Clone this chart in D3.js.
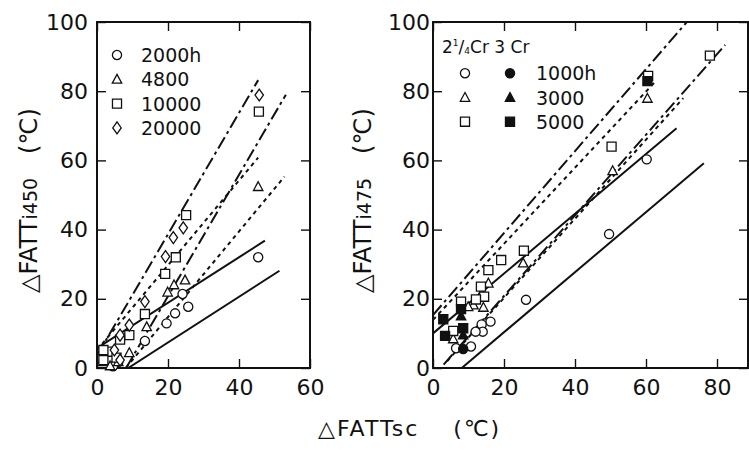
<!DOCTYPE html>
<html>
<head>
<meta charset="utf-8">
<script src="https://cdn.jsdelivr.net/npm/d3@7"></script>
<style>
body { margin: 0; background: #fff; }
svg { display: block; }
text { font-family: "DejaVu Sans", sans-serif; fill: #111; }
</style>
</head>
<body>
<svg id="chart" width="749" height="455"></svg>
<script>
// 刻度
const xTicksLeft = [0, 20, 40, 60];
const xTicksRight = [0, 20, 40, 60, 80];
const yTicks = [0, 20, 40, 60, 80, 100];

// 左图: ΔFATTi450, 时效时间
const agingLeft = ['2000h', '4800', '10000', '20000'];
const left2000 = [[45.4, 32.0], [25.7, 17.7], [24.1, 21.4], [22.0, 15.8], [19.6, 12.9], [13.5, 7.8], [6.0, 1.8], [4.5, 0.5]];
const left4800 = [[45.4, 52.4], [24.8, 25.4], [21.7, 24.0], [19.9, 21.9], [14.0, 11.9], [9.1, 4.4], [1.3, 1.8], [3.7, 0.6], [6.0, 1.8]];
const left10000 = [[45.6, 74.1], [25.1, 44.2], [22.2, 32.0], [19.2, 27.2], [13.5, 15.6], [9.1, 9.5], [6.5, 8.2], [3.2, 4.7], [1.8, 5.2], [1.8, 2.3], [5.5, 3.0]];
const left20000 = [[45.7, 78.9], [24.3, 40.5], [21.5, 37.7], [19.3, 32.2], [13.5, 19.2], [9.1, 12.4], [6.5, 9.5], [4.9, 5.2], [6.5, 2.3]];

// 左图回归线 (两端点)
const leftSolid = [[[8.8, 0], [51.4, 28.1]], [[0, 5.7], [47.3, 36.8]]];
const leftDotted = [[[8.1, 0], [52.8, 55.3]], [[0, 5.2], [45.4, 60.8]]];
const leftDashDot = [[[0, 3.6], [45.4, 83.2]], [[8.2, 0], [53.2, 79.0]]];

// 右图: ΔFATTi475, 2¼Cr (空心) / 3Cr (实心)
const agingRight = ['1000h', '3000', '5000'];
const r1000open = [[60.2, 60.3], [49.6, 38.7], [26.2, 19.7], [16.2, 13.4], [13.7, 12.6], [14.0, 10.5], [12.0, 10.5], [10.7, 6.2], [6.5, 5.7]];
const r1000solid = [[8.5, 5.5]];
const r3000open = [[60.4, 77.9], [50.6, 57.0], [25.4, 30.3], [15.6, 24.5], [14.2, 17.5], [13.7, 21.6], [11.4, 18.2], [9.9, 17.7], [5.7, 8.4]];
const r3000solid = [[7.9, 15.0], [8.5, 9.5]];
const r5000open = [[78.0, 90.3], [60.6, 84.4], [50.3, 64.0], [25.6, 33.9], [19.2, 31.2], [15.6, 28.3], [13.5, 23.5], [14.4, 20.6], [12.1, 19.8], [7.9, 19.2], [5.7, 10.7]];
const r5000solid = [[60.4, 82.9], [2.9, 14.1], [7.9, 17.0], [3.4, 9.3], [8.5, 11.5]];

const rightSolid = [[[8.1, 0], [76.3, 59.2]], [[0, 10.0], [68.6, 69.3]]];
const rightDotted = [[[4.0, 2.0], [70.5, 78.0]], [[0, 13.9], [63.0, 83.2]]];
const rightDashDot = [[[3.0, 1.0], [82.3, 93.4]], [[0, 15.3], [71.5, 100]]];

// 自定义符号
const symCircle = { draw(c, s) { const r = Math.sqrt(s / Math.PI); c.moveTo(r, 0); c.arc(0, 0, r, 0, 2 * Math.PI); } };
const symSquare = { draw(c, s) { const h = Math.sqrt(s) / 2; c.rect(-h, -h, 2 * h, 2 * h); } };
const symTriangle = { draw(c, s) { const a = Math.sqrt(s); c.moveTo(0, -a * 0.55); c.lineTo(a * 0.52, a * 0.42); c.lineTo(-a * 0.52, a * 0.42); c.closePath(); } };
const symDiamond = { draw(c, s) { const a = Math.sqrt(s); c.moveTo(0, -a * 0.62); c.lineTo(a * 0.44, 0); c.lineTo(0, a * 0.62); c.lineTo(-a * 0.44, 0); c.closePath(); } };

const symbolSize = { circle: 66, square: 82, triangle: 82, diamond: 92 };

const svg = d3.select('#chart');
const yTop = 22, yBottom = 368;

function marker(g, type, filled) {
  const types = { circle: symCircle, square: symSquare, triangle: symTriangle, diamond: symDiamond };
  return g.append('path')
    .attr('d', d3.symbol(types[type], symbolSize[type])())
    .attr('fill', filled ? '#111' : '#fff')
    .attr('stroke', '#111')
    .attr('stroke-width', 1.3);
}

function drawPanel(opt) {
  const x = d3.scaleLinear().domain([0, opt.xMax]).range([opt.x0, opt.x1]);
  const y = d3.scaleLinear().domain([0, 100]).range([yBottom, yTop]);
  const g = svg.append('g');

  const clipId = 'clip' + opt.x0;
  svg.append('defs').append('clipPath').attr('id', clipId)
    .append('rect').attr('x', opt.x0).attr('y', yTop)
    .attr('width', opt.x1 - opt.x0).attr('height', yBottom - yTop);

  // 坐标轴 (刻度朝内)
  const axes = [
    [d3.axisBottom(x).tickValues(opt.xTicks).tickSize(-9).tickPadding(11), `translate(0,${yBottom})`],
    [d3.axisTop(x).tickValues(opt.xTicks).tickSize(-9).tickFormat(''), `translate(0,${yTop})`],
    [d3.axisLeft(y).tickValues(yTicks).tickSize(-9).tickPadding(opt.yPad), `translate(${opt.x0},0)`],
    [d3.axisRight(y).tickValues(yTicks).tickSize(-9).tickFormat(''), `translate(${opt.x1},0)`]
  ];
  axes.forEach(([ax, tr]) => {
    const a = g.append('g').attr('transform', tr).call(ax);
    a.select('.domain').remove();
    a.selectAll('line').attr('stroke', '#111').attr('stroke-width', 1.4);
    a.selectAll('text').attr('font-size', 22).attr('font-family', '"DejaVu Sans", sans-serif').attr('fill', '#111');
  });

  // 边框
  g.append('rect')
    .attr('x', opt.x0).attr('y', yTop)
    .attr('width', opt.x1 - opt.x0).attr('height', yBottom - yTop)
    .attr('fill', 'none').attr('stroke', '#111').attr('stroke-width', 2);

  // 回归线
  const line = d3.line().x(d => x(d[0])).y(d => y(d[1]));
  const lg = g.append('g').attr('clip-path', `url(#${clipId})`);
  const styles = [
    [opt.solid, null],
    [opt.dotted, '4,4'],
    [opt.dashdot, '13,4,3,4']
  ];
  styles.forEach(([set, dash]) => {
    set.forEach(seg => {
      lg.append('path').attr('d', line(seg))
        .attr('fill', 'none').attr('stroke', '#111').attr('stroke-width', 2)
        .attr('stroke-dasharray', dash);
    });
  });

  // 数据点
  opt.series.forEach(s => {
    s.data.forEach(d => {
      marker(g, s.type, s.filled).attr('transform', `translate(${x(d[0])},${y(d[1])})`);
    });
  });
  return { x, y, g };
}

drawPanel({
  x0: 97, x1: 310, xMax: 60, xTicks: xTicksLeft, yPad: 9,
  solid: leftSolid, dotted: leftDotted, dashdot: leftDashDot,
  series: [
    { data: left2000, type: 'circle' },
    { data: left4800, type: 'triangle' },
    { data: left10000, type: 'square' },
    { data: left20000, type: 'diamond' }
  ]
});

drawPanel({
  x0: 433, x1: 748, xMax: (748 - 433) / 3.55, xTicks: xTicksRight, yPad: 3,
  solid: rightSolid, dotted: rightDotted, dashdot: rightDashDot,
  series: [
    { data: r1000open, type: 'circle' },
    { data: r3000open, type: 'triangle' },
    { data: r5000open, type: 'square' },
    { data: r1000solid, type: 'circle', filled: true },
    { data: r3000solid, type: 'triangle', filled: true },
    { data: r5000solid, type: 'square', filled: true }
  ]
});

// 左图例
const leftTypes = ['circle', 'triangle', 'square', 'diamond'];
agingLeft.forEach((label, i) => {
  const yy = 55 + i * 24.3;
  marker(svg, leftTypes[i], false).attr('transform', `translate(117,${yy})`);
  svg.append('text').attr('x', 141).attr('y', yy + 7).attr('font-size', 19).text(label);
});

// 右图例
const rl = svg.append('text').attr('x', 442).attr('y', 53).attr('font-size', 17);
rl.append('tspan').text('2');
rl.append('tspan').attr('font-size', 9).attr('dy', -7).text('1');
rl.append('tspan').attr('dy', 7).text('/');
rl.append('tspan').attr('font-size', 9).attr('dy', 1).text('4');
rl.append('tspan').attr('dy', -1).text('Cr 3 Cr');
const rightTypes = ['circle', 'triangle', 'square'];
agingRight.forEach((label, i) => {
  const yy = 73.3 + i * 24.2;
  marker(svg, rightTypes[i], false).attr('transform', `translate(465,${yy})`);
  marker(svg, rightTypes[i], true).attr('transform', `translate(510,${yy})`);
  svg.append('text').attr('x', 536).attr('y', yy + 7).attr('font-size', 19).text(label);
});

// 轴标题
function yLabel(cx, sub) {
  const t = svg.append('text')
    .attr('transform', `translate(${cx},293) rotate(-90)`)
    .attr('font-size', 24);
  t.append('tspan').text('△FATT');
  t.append('tspan').attr('font-size', 19).text(sub);
  t.append('tspan').attr('dx', 24).text('(℃)');
}
yLabel(37, 'i450');
yLabel(371, 'i475');

const xl = svg.append('text').attr('x', 318).attr('y', 436).attr('font-size', 22).attr('letter-spacing', 2);
xl.append('tspan').text('△FATTsc');
xl.append('tspan').attr('dx', 34).text('(℃)');
</script>
</body>
</html>
